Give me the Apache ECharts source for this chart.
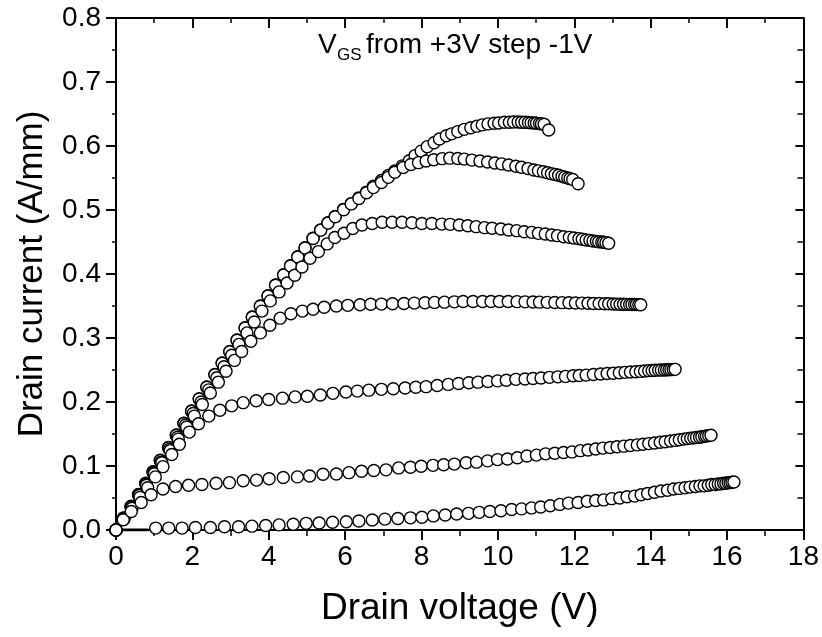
<!DOCTYPE html>
<html>
<head>
<meta charset="utf-8">
<script src="https://cdn.jsdelivr.net/npm/echarts@6/dist/echarts.min.js"></script>
<style>html,body{margin:0;padding:0;background:#fff}#c{width:822px;height:637px}</style>
</head>
<body>
<div id="c"></div>
<script>
// ---- Data (drain voltage V, drain current A/mm) ----
const xTicks = [0, 2, 4, 6, 8, 10, 12, 14, 16, 18];
const yTicks = [0.0, 0.1, 0.2, 0.3, 0.4, 0.5, 0.6, 0.7, 0.8];
const seriesNames = ['VGS=+3V', 'VGS=+2V', 'VGS=+1V', 'VGS=0V', 'VGS=-1V', 'VGS=-2V', 'VGS=-3V'];

const vd_p3 = [0,0.2,0.395,0.59,0.78,0.97,1.16,1.375,1.58,1.78,1.98,2.18,2.38,2.59,2.78,2.98,3.17,3.38,3.57,3.78,3.98,4.18,4.39,4.57,4.76,4.95,5.16,5.36,5.55,5.74,5.96,6.16,6.36,6.56,6.74,6.95,7.13,7.3,7.5,7.68,7.83,7.99,8.15,8.33,8.47,8.65,8.79,8.95,9.12,9.29,9.45,9.59,9.74,9.9,10.02,10.17,10.3,10.41,10.53,10.62,10.71,10.8,10.87,10.95,11.01,11.09,11.14,11.21,11.33];
const id_p3 = [0,0.019,0.037,0.0555,0.073,0.091,0.109,0.129,0.1485,0.167,0.186,0.205,0.2235,0.243,0.261,0.279,0.297,0.316,0.333,0.35,0.366,0.383,0.399,0.413,0.427,0.441,0.456,0.469,0.48,0.49,0.501,0.51,0.519,0.528,0.537,0.546,0.554,0.561,0.569,0.577,0.585,0.592,0.599,0.605,0.611,0.616,0.619,0.6225,0.626,0.6285,0.631,0.633,0.6345,0.6355,0.636,0.637,0.6372,0.6374,0.6374,0.6372,0.637,0.6368,0.6364,0.636,0.6355,0.635,0.6345,0.634,0.625];

const vd_p2 = [0,0.2,0.395,0.59,0.78,0.97,1.16,1.375,1.58,1.78,1.98,2.18,2.38,2.59,2.78,2.98,3.17,3.38,3.57,3.78,3.98,4.18,4.39,4.57,4.76,4.95,5.16,5.36,5.55,5.74,5.96,6.16,6.36,6.56,6.74,6.95,7.13,7.3,7.52,7.72,7.92,8.12,8.32,8.54,8.74,8.95,9.12,9.32,9.53,9.73,9.92,10.1,10.28,10.47,10.62,10.79,10.94,11.06,11.19,11.3,11.4,11.5,11.59,11.68,11.75,11.83,11.89,11.96,12.1];
const id_p2 = [0,0.0185,0.0365,0.055,0.0725,0.0905,0.1085,0.1285,0.148,0.1665,0.1855,0.2045,0.223,0.2425,0.2605,0.2785,0.2965,0.3155,0.3325,0.3495,0.3655,0.3825,0.3985,0.4125,0.4265,0.4405,0.4555,0.4685,0.4795,0.4895,0.5005,0.5095,0.518,0.527,0.535,0.543,0.551,0.559,0.5665,0.571,0.574,0.5765,0.5786,0.5802,0.581,0.5805,0.5795,0.578,0.5766,0.575,0.5734,0.572,0.5702,0.5684,0.5669,0.5647,0.5626,0.5612,0.5598,0.5583,0.5566,0.5554,0.5542,0.5526,0.5513,0.55,0.549,0.5477,0.541];

const vd_p1 = [0,0.2,0.4,0.6,0.79,0.99,1.18,1.4,1.61,1.82,2.02,2.23,2.43,2.64,2.83,3.03,3.22,3.43,3.62,3.82,4.04,4.27,4.48,4.68,4.87,5.08,5.3,5.53,5.73,5.97,6.2,6.44,6.71,6.97,7.23,7.49,7.75,8.01,8.27,8.53,8.75,8.99,9.21,9.43,9.65,9.85,10.08,10.28,10.49,10.69,10.89,11.06,11.24,11.41,11.56,11.72,11.87,11.99,12.12,12.21,12.31,12.41,12.49,12.58,12.64,12.72,12.77,12.83,12.9];
const id_p1 = [0,0.018,0.036,0.054,0.071,0.089,0.106,0.126,0.145,0.164,0.182,0.2,0.219,0.238,0.255,0.273,0.29,0.308,0.325,0.342,0.358,0.372,0.386,0.398,0.411,0.4245,0.435,0.447,0.457,0.4636,0.471,0.4766,0.479,0.4808,0.4808,0.4808,0.48,0.479,0.479,0.478,0.4776,0.4766,0.4755,0.474,0.4724,0.4714,0.4703,0.4688,0.4677,0.466,0.4651,0.4635,0.4625,0.461,0.4599,0.4583,0.4573,0.4563,0.4552,0.4542,0.4531,0.4526,0.4516,0.451,0.4505,0.45,0.4495,0.449,0.448];

const vd_0 = [0,0.2,0.41,0.61,0.8,1.0,1.2,1.42,1.63,1.85,2.05,2.26,2.47,2.68,2.88,3.1,3.29,3.53,3.78,4.03,4.3,4.58,4.88,5.16,5.45,5.77,6.07,6.39,6.67,6.95,7.24,7.54,7.81,8.09,8.34,8.6,8.86,9.09,9.35,9.6,9.82,10.04,10.27,10.5,10.71,10.92,11.09,11.29,11.49,11.68,11.86,12.03,12.2,12.36,12.5,12.65,12.79,12.9,13.02,13.11,13.2,13.29,13.37,13.45,13.51,13.58,13.63,13.69,13.74];
const id_0 = [0,0.0176,0.036,0.054,0.07,0.088,0.105,0.124,0.142,0.161,0.178,0.196,0.214,0.231,0.248,0.265,0.279,0.295,0.308,0.32,0.331,0.338,0.342,0.345,0.348,0.35,0.351,0.352,0.3527,0.353,0.3535,0.354,0.3545,0.355,0.3556,0.356,0.3565,0.357,0.357,0.357,0.357,0.357,0.357,0.3568,0.3565,0.3563,0.356,0.3557,0.3555,0.3552,0.355,0.3547,0.3545,0.3542,0.354,0.3538,0.3536,0.3534,0.3532,0.353,0.3528,0.3527,0.3526,0.3525,0.3524,0.3523,0.3522,0.3521,0.352];

const vd_m1 = [0,0.21,0.42,0.63,0.83,1.03,1.23,1.46,1.66,1.92,2.16,2.43,2.72,3.03,3.33,3.67,4.0,4.36,4.69,5.01,5.35,5.68,6.02,6.32,6.62,6.95,7.26,7.57,7.85,8.12,8.41,8.7,8.97,9.24,9.48,9.74,9.99,10.22,10.47,10.71,10.92,11.13,11.35,11.57,11.77,11.97,12.13,12.31,12.5,12.69,12.86,13.02,13.18,13.33,13.47,13.61,13.73,13.84,13.95,14.04,14.12,14.21,14.28,14.36,14.42,14.48,14.53,14.59,14.64];
const id_m1 = [0,0.017,0.034,0.051,0.066,0.083,0.099,0.118,0.134,0.153,0.166,0.178,0.187,0.194,0.199,0.202,0.204,0.206,0.208,0.209,0.211,0.2135,0.2157,0.217,0.2185,0.2198,0.2208,0.2218,0.223,0.224,0.2258,0.2275,0.229,0.23,0.231,0.232,0.233,0.234,0.2354,0.236,0.2367,0.2375,0.2385,0.2393,0.24,0.241,0.2415,0.242,0.243,0.2437,0.2445,0.245,0.2457,0.2463,0.2468,0.2473,0.2478,0.2485,0.249,0.2493,0.2496,0.2498,0.25,0.25,0.2503,0.2505,0.2506,0.2508,0.251];

const vd_m2 = [0,0.19,0.4,0.66,0.92,1.23,1.56,1.9,2.25,2.62,2.97,3.33,3.68,4.01,4.38,4.75,5.07,5.42,5.77,6.1,6.43,6.75,7.07,7.4,7.71,7.99,8.3,8.58,8.86,9.17,9.44,9.73,9.99,10.25,10.51,10.76,11.01,11.25,11.49,11.72,11.94,12.16,12.36,12.56,12.75,12.94,13.12,13.3,13.47,13.65,13.8,13.95,14.1,14.25,14.38,14.52,14.64,14.75,14.87,14.96,15.05,15.13,15.2,15.28,15.34,15.41,15.46,15.52,15.58];
const id_m2 = [0,0.016,0.029,0.043,0.055,0.064,0.068,0.07,0.071,0.073,0.074,0.077,0.078,0.08,0.082,0.083,0.0844,0.087,0.0875,0.0896,0.0917,0.093,0.094,0.097,0.098,0.0995,0.101,0.102,0.103,0.105,0.106,0.108,0.11,0.111,0.113,0.1156,0.117,0.119,0.12,0.121,0.122,0.124,0.125,0.1266,0.128,0.129,0.13,0.131,0.132,0.133,0.134,0.135,0.136,0.137,0.138,0.139,0.14,0.141,0.142,0.1428,0.1435,0.144,0.1445,0.145,0.1457,0.1463,0.147,0.1475,0.148];

const vd_m3 = [1.04,1.38,1.73,2.08,2.47,2.84,3.21,3.56,3.92,4.27,4.64,4.98,5.32,5.67,6.03,6.36,6.71,7.04,7.38,7.71,8.01,8.31,8.62,8.92,9.23,9.51,9.79,10.08,10.36,10.62,10.88,11.12,11.37,11.62,11.85,12.1,12.34,12.56,12.77,12.98,13.19,13.38,13.58,13.75,13.92,14.1,14.27,14.44,14.6,14.75,14.9,15.03,15.17,15.29,15.4,15.51,15.6,15.69,15.77,15.84,15.91,15.97,16.03,16.08,16.13,16.18];
const id_m3 = [0.003,0.003,0.003,0.004,0.004,0.005,0.005,0.006,0.007,0.008,0.009,0.0104,0.011,0.012,0.013,0.014,0.0156,0.017,0.018,0.019,0.02,0.022,0.0234,0.025,0.026,0.0276,0.029,0.03,0.032,0.033,0.0345,0.036,0.038,0.04,0.042,0.043,0.045,0.046,0.047,0.049,0.05,0.052,0.053,0.055,0.057,0.059,0.061,0.062,0.064,0.065,0.066,0.067,0.068,0.069,0.069,0.07,0.071,0.071,0.072,0.072,0.073,0.073,0.074,0.074,0.0745,0.075];

// short flat segment at zero current (VGS=-3V, below ~0.85 V)
const vd_zero = [0, 0.85];
const id_zero = [0, 0];

const xTitle = 'Drain voltage (V)';
const yTitle = 'Drain current (A/mm)';

// ---- Build ----
function zip(xs, ys) { return xs.map((x, i) => [x, ys[i]]); }
const curves = [
  [vd_p3, id_p3], [vd_p2, id_p2], [vd_p1, id_p1], [vd_0, id_0],
  [vd_m1, id_m1], [vd_m2, id_m2], [vd_m3, id_m3]
];

const FONT = 'Liberation Sans, Arial, sans-serif';
const chart = echarts.init(document.getElementById('c'), null, { renderer: 'canvas' });

const baseX = {
  type: 'value', min: xTicks[0], max: xTicks[xTicks.length - 1], interval: 2,
  splitLine: { show: false },
  axisLine: { show: true, onZero: false, lineStyle: { color: '#000', width: 2 } },
  minorSplitLine: { show: false }
};
const baseY = {
  type: 'value', min: yTicks[0], max: yTicks[yTicks.length - 1], interval: 0.1,
  splitLine: { show: false },
  axisLine: { show: true, onZero: false, lineStyle: { color: '#000', width: 2 } },
  minorSplitLine: { show: false }
};

const series = curves.map((c, i) => ({
  name: seriesNames[i], type: 'scatter', xAxisIndex: 0, yAxisIndex: 0,
  data: zip(c[0], c[1]), symbol: 'circle', symbolSize: 12,
  itemStyle: { color: '#fff', borderColor: '#000', borderWidth: 1.4, opacity: 1 },
  z: 3 + i
}));
series.push({
  type: 'line', data: zip(vd_zero, id_zero), showSymbol: false,
  lineStyle: { color: '#000', width: 3 }, z: 2
});

chart.setOption({
  animation: false,
  backgroundColor: '#fff',
  grid: { left: 116, right: 16, top: 18, bottom: 107, containLabel: false },
  xAxis: [
    Object.assign({}, baseX, {
      position: 'bottom',
      axisTick: { show: true, inside: false, length: 10, lineStyle: { color: '#000', width: 2 } },
      minorTick: { show: true, splitNumber: 2, length: 6, lineStyle: { color: '#000', width: 1.5 } },
      axisLabel: { show: true, color: '#000', fontSize: 28, fontFamily: FONT, margin: 13 },
      name: xTitle, nameLocation: 'middle', nameGap: 60,
      nameTextStyle: { color: '#000', fontSize: 37, fontFamily: FONT }
    }),
    Object.assign({}, baseX, {
      position: 'top',
      axisTick: { show: true, inside: true, length: 10, lineStyle: { color: '#000', width: 2 } },
      minorTick: { show: true, splitNumber: 2, length: 5, lineStyle: { color: '#000', width: 1.5 } },
      axisLabel: { show: false }
    })
  ],
  yAxis: [
    Object.assign({}, baseY, {
      position: 'left',
      axisTick: { show: true, inside: false, length: 10, lineStyle: { color: '#000', width: 2 } },
      minorTick: { show: true, splitNumber: 2, length: 4, lineStyle: { color: '#000', width: 1.5 } },
      axisLabel: { show: true, color: '#000', fontSize: 28, fontFamily: FONT, margin: 15,
        formatter: v => v.toFixed(1) },
      name: yTitle, nameLocation: 'middle', nameGap: 66, nameRotate: 90,
      nameTextStyle: { color: '#000', fontSize: 35, fontFamily: FONT }
    }),
    Object.assign({}, baseY, {
      position: 'right',
      axisTick: { show: true, inside: true, length: 8, lineStyle: { color: '#000', width: 2 } },
      minorTick: { show: true, splitNumber: 2, length: 6, lineStyle: { color: '#000', width: 1.5 } },
      axisLabel: { show: false }
    })
  ],
  graphic: [
    { type: 'text', left: 318, top: 31, z: 100,
      style: { text: 'V', fontSize: 28, fontFamily: FONT, fill: '#000' } },
    { type: 'text', left: 337, top: 47, z: 100,
      style: { text: 'GS', fontSize: 17, fontFamily: FONT, fill: '#000' } },
    { type: 'text', left: 366, top: 31, z: 100,
      style: { text: 'from +3V step -1V', fontSize: 28, fontFamily: FONT, fill: '#000' } }
  ],
  series: series
});
</script>
</body>
</html>
